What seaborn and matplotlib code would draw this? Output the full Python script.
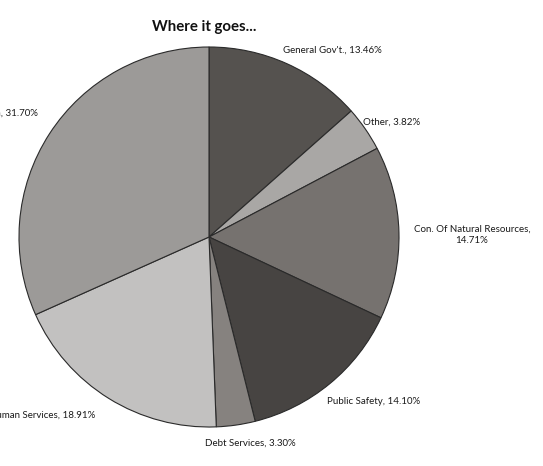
import matplotlib
matplotlib.use("Agg")
import matplotlib.pyplot as plt
import seaborn as sns

sns.set_theme(style="white")
plt.rcParams['font.family'] = ['Lato', 'DejaVu Sans']

categories = ["General Gov't.", "Other", "Con. Of Natural Resources", "Public Safety",
              "Debt Services", "Human Services", "Education"]
values = [13.46, 3.82, 14.71, 14.10, 3.30, 18.91, 31.70]
colors = ["#55524f", "#a9a7a5", "#76726f", "#474442", "#86827f", "#c2c1c0", "#9c9a98"]

W, H = 543, 466
fig = plt.figure(figsize=(W / 100, H / 100), dpi=100)
ax = fig.add_axes([0, 0, 1, 1])
ax.set_xlim(0, W)
ax.set_ylim(0, H)
ax.axis("off")

cx, cy, r = 209, H - 237, 190
ax.pie(values, colors=colors, startangle=90, counterclock=False,
       center=(cx, cy), radius=r,
       wedgeprops=dict(edgecolor="#2a2a2a", linewidth=0.8))
ax.set_xlim(0, W)
ax.set_ylim(0, H)
ax.set_aspect("equal")

labels = [f"{c}, {v:.2f}%" for c, v in zip(categories, values)]
fs = 7.0
# positions in pixel coords (x, y from top), alignment
pos = [
    (283, 50, "left"),
    (363, 122, "left"),
    (472, 235, "center"),
    (327, 401, "left"),
    (205, 443, "left"),
    (95, 415, "right"),
    (38, 113, "right"),
]
for lab, (x, y, ha) in zip(labels, pos):
    if lab.startswith("Con."):
        lab = "Con. Of Natural Resources,\n" + lab.split(", ")[-1]
    ax.text(x, H - y, lab, ha=ha, va="center", fontsize=fs, color="#1a1a1a",
            linespacing=1.35)

ax.text(204, H - 27, "Where it goes...", ha="center", va="center",
        fontsize=10.8, fontweight="bold", color="#111111")

fig.savefig("out.png", dpi=100, facecolor="white")
